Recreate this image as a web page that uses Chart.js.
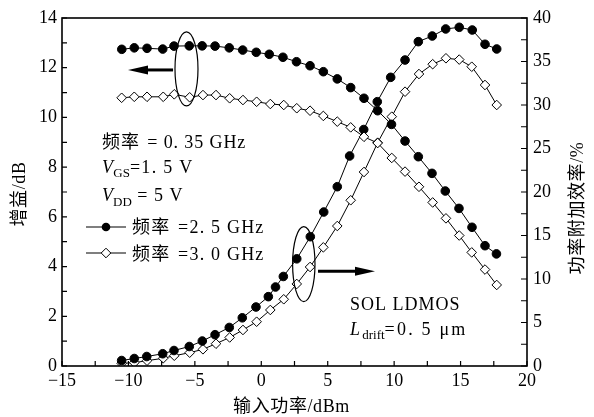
<!DOCTYPE html>
<html>
<head>
<meta charset="utf-8">
<script src="https://cdn.jsdelivr.net/npm/chart.js@4.4.0/dist/chart.umd.min.js"></script>
<style>
  html, body { margin: 0; padding: 0; background: #fff; }
  #wrap { width: 594px; height: 417px; }
</style>
</head>
<body>
<div id="wrap"><canvas id="chart" width="594" height="417"></canvas></div>
<script>
var gainX25 = [-10.5, -9.56, -8.6, -7.42, -6.57, -5.42, -4.45, -3.48, -2.41, -1.4, -0.38, 0.6, 1.63, 2.65, 3.67, 4.67, 5.72, 6.73, 7.73, 8.76, 9.8, 10.82, 11.82, 12.85, 13.85, 14.88, 15.86, 16.84, 17.7];
var gain25 = [12.74, 12.80, 12.78, 12.75, 12.87, 12.88, 12.88, 12.87, 12.80, 12.71, 12.62, 12.54, 12.42, 12.24, 12.08, 11.84, 11.55, 11.20, 10.77, 10.27, 9.72, 9.05, 8.42, 7.75, 7.04, 6.34, 5.58, 4.84, 4.51];
var paeX25 = [-10.51, -9.56, -8.62, -7.42, -6.57, -5.42, -4.44, -3.48, -2.41, -1.43, -0.4, 0.53, 1.07, 1.66, 2.67, 3.69, 4.7, 5.72, 6.65, 7.71, 8.73, 9.74, 10.82, 11.82, 12.87, 13.88, 14.9, 15.88, 16.84, 17.72];
var pae25 = [0.63, 0.86, 1.09, 1.41, 1.78, 2.24, 2.87, 3.6, 4.43, 5.54, 6.78, 7.97, 9.08, 10.29, 12.32, 14.86, 17.7, 20.61, 24.14, 27.18, 30.38, 33.18, 35.17, 37.28, 37.93, 38.74, 38.93, 38.62, 36.98, 36.44];
var x30 = [-10.51, -9.56, -8.6, -7.38, -6.55, -5.39, -4.39, -3.41, -2.38, -1.38, -0.35, 0.68, 1.69, 2.67, 3.67, 4.67, 5.72, 6.73, 7.73, 8.76, 9.82, 10.82, 11.87, 12.9, 13.9, 14.9, 15.84, 16.84, 17.72];
var gain30 = [10.79, 10.83, 10.83, 10.83, 10.93, 10.81, 10.90, 10.90, 10.77, 10.70, 10.63, 10.54, 10.50, 10.37, 10.27, 10.06, 9.83, 9.60, 9.22, 8.97, 8.37, 7.82, 7.21, 6.58, 5.94, 5.25, 4.57, 3.88, 3.26];
var pae30 = [0.31, 0.38, 0.61, 0.89, 1.18, 1.53, 1.92, 2.56, 3.28, 4.14, 5.09, 6.44, 7.67, 9.43, 11.38, 13.64, 16.09, 19.05, 22.3, 25.67, 28.66, 31.53, 33.56, 34.69, 35.37, 35.22, 34.4, 32.3, 30.0];

var xTicks = [-15, -10, -5, 0, 5, 10, 15, 20];
var gainTicks = [0, 2, 4, 6, 8, 10, 12, 14];
var paeTicks = [0, 5, 10, 15, 20, 25, 30, 35, 40];

var SERIF = "'Liberation Serif', 'Noto Sans CJK SC', serif";

function pts(xs, ys) {
  var out = [];
  for (var i = 0; i < xs.length; i++) out.push({ x: xs[i], y: ys[i] });
  return out;
}

function series(data, axis, diamond) {
  return {
    data: data,
    yAxisID: axis,
    borderColor: '#000',
    borderWidth: 1,
    tension: 0,
    fill: false,
    pointStyle: diamond ? 'rectRot' : 'circle',
    pointRadius: diamond ? 4.8 : 4.3,
    pointBorderWidth: 1,
    pointBorderColor: '#000',
    pointBackgroundColor: diamond ? '#fff' : '#000'
  };
}

// draws text made of several pieces (italic / subscript), ls = letter spacing
function richText(ctx, x, y, parts, ls) {
  ctx.textAlign = 'left';
  ctx.textBaseline = 'alphabetic';
  for (var i = 0; i < parts.length; i++) {
    var p = parts[i];
    ctx.letterSpacing = (p.ls !== undefined ? p.ls : (ls || 0)) + 'px';
    ctx.font = (p.italic ? 'italic ' : '') + (p.size || 18) + 'px ' + SERIF;
    ctx.fillText(p.t, x, y + (p.dy || 0));
    x += ctx.measureText(p.t).width + (p.gap || 0);
  }
  ctx.letterSpacing = '0px';
}

function arrow(ctx, x1, y, x2) {
  var dir = x2 > x1 ? 1 : -1;
  ctx.lineWidth = 3;
  ctx.beginPath();
  ctx.moveTo(x1, y);
  ctx.lineTo(x2 - dir * 16, y);
  ctx.stroke();
  ctx.beginPath();
  ctx.moveTo(x2, y);
  ctx.lineTo(x2 - dir * 20, y - 4.5);
  ctx.lineTo(x2 - dir * 20, y + 4.5);
  ctx.closePath();
  ctx.fill();
}

var decorations = {
  id: 'decorations',
  afterDraw: function (chart) {
    var ctx = chart.ctx;
    var a = chart.chartArea;
    var sx = chart.scales.x, sy = chart.scales.y, sy2 = chart.scales.y2;
    var v, px;
    ctx.save();
    ctx.strokeStyle = '#000';
    ctx.fillStyle = '#000';

    // frame
    ctx.lineWidth = 1.6;
    ctx.strokeRect(a.left, a.top, a.right - a.left, a.bottom - a.top);

    // inward ticks
    ctx.lineWidth = 1.2;
    ctx.beginPath();
    for (v = -15; v <= 20; v += 2.5) {
      px = sx.getPixelForValue(v);
      ctx.moveTo(px, a.bottom);
      ctx.lineTo(px, a.bottom - 5);
    }
    for (v = 0; v <= 14; v += 1) {
      px = sy.getPixelForValue(v);
      ctx.moveTo(a.left, px);
      ctx.lineTo(a.left + 5, px);
    }
    for (v = 0; v <= 40; v += 2.5) {
      px = sy2.getPixelForValue(v);
      ctx.moveTo(a.right, px);
      ctx.lineTo(a.right - 6, px);
    }
    ctx.stroke();

    // ellipses and arrows marking which axis each group uses
    ctx.lineWidth = 1.2;
    ctx.beginPath();
    ctx.ellipse(sx.getPixelForValue(-5.63), sy.getPixelForValue(11.95), 11.5, 37, 0, 0, Math.PI * 2);
    ctx.stroke();
    ctx.beginPath();
    ctx.ellipse(sx.getPixelForValue(3.2), sy2.getPixelForValue(11.72), 11.2, 37.5, 0, 0, Math.PI * 2);
    ctx.stroke();
    arrow(ctx, sx.getPixelForValue(-6.64), sy.getPixelForValue(11.91), sx.getPixelForValue(-10.03));
    arrow(ctx, sx.getPixelForValue(4.27), sy2.getPixelForValue(10.88), sx.getPixelForValue(8.56));

    // annotation text
    richText(ctx, 102, 148, [{ t: '频率', gap: 2 }, { t: ' = 0. 35 GHz' }], 0.9);
    richText(ctx, 102, 173, [{ t: 'V', italic: true, gap: -1 }, { t: 'GS', size: 13, dy: 4, ls: 0 }, { t: '=1. 5 V' }], 1.3);
    richText(ctx, 102, 201, [{ t: 'V', italic: true, gap: -1 }, { t: 'DD', size: 13, dy: 5, ls: 0 }, { t: ' = 5 V' }], 1);
    richText(ctx, 350, 310, [{ t: 'SOL LDMOS' }], 1);
    richText(ctx, 350, 335, [{ t: 'L', italic: true }, { t: 'drift', size: 13, dy: 4, ls: 0 }, { t: '=0. 5 μm' }], 2.2);

    // legend
    ctx.lineWidth = 1.2;
    ctx.beginPath();
    ctx.moveTo(86, 227); ctx.lineTo(126, 227);
    ctx.moveTo(86, 253); ctx.lineTo(126, 253);
    ctx.stroke();
    ctx.beginPath();
    ctx.arc(106, 227, 4.3, 0, Math.PI * 2);
    ctx.fill();
    ctx.beginPath();
    ctx.moveTo(106, 253 - 4.8); ctx.lineTo(110.8, 253); ctx.lineTo(106, 253 + 4.8); ctx.lineTo(101.2, 253);
    ctx.closePath();
    ctx.fillStyle = '#fff';
    ctx.fill();
    ctx.lineWidth = 1;
    ctx.stroke();
    ctx.fillStyle = '#000';
    richText(ctx, 132, 233, [{ t: '频率', gap: 2 }, { t: ' =2. 5 GHz' }], 1.2);
    richText(ctx, 132, 260, [{ t: '频率', gap: 2 }, { t: ' =3. 0 GHz' }], 1.2);

    // axis titles
    ctx.font = '18px ' + SERIF;
    ctx.textAlign = 'center';
    ctx.textBaseline = 'middle';
    ctx.letterSpacing = '0.6px';
    ctx.fillText('输入功率/dBm', (a.left + a.right) / 2 - 3, 407);
    ctx.save();
    ctx.translate(20, 194);
    ctx.rotate(-Math.PI / 2);
    ctx.fillText('增益/dB', 0, 0);
    ctx.restore();
    ctx.save();
    ctx.translate(578, 208);
    ctx.rotate(-Math.PI / 2);
    ctx.fillText('功率附加效率/%', 0, 0);
    ctx.restore();

    ctx.restore();
  }
};

var tickFont = { family: SERIF, size: 18 };

new Chart(document.getElementById('chart'), {
  type: 'line',
  data: {
    datasets: [
      series(pts(gainX25, gain25), 'y', false),
      series(pts(x30, gain30), 'y', true),
      series(pts(paeX25, pae25), 'y2', false),
      series(pts(x30, pae30), 'y2', true)
    ]
  },
  options: {
    responsive: false,
    animation: false,
    layout: { padding: { top: 18, left: 0, right: 0, bottom: 0 } },
    plugins: { legend: { display: false }, tooltip: { enabled: false } },
    scales: {
      x: {
        type: 'linear', min: -15, max: 20,
        afterFit: function (s) { s.height = 51; },
        afterBuildTicks: function (s) { s.ticks = xTicks.map(function (v) { return { value: v }; }); },
        grid: { display: false, drawTicks: false },
        border: { display: false },
        ticks: {
          color: '#000', font: tickFont, padding: 4, maxRotation: 0,
          callback: function (v) { return String(v).replace('-', '\u2212'); }
        }
      },
      y: {
        position: 'left', min: 0, max: 14,
        afterFit: function (s) { s.width = 62; },
        afterBuildTicks: function (s) { s.ticks = gainTicks.map(function (v) { return { value: v }; }); },
        grid: { display: false, drawTicks: false },
        border: { display: false },
        ticks: { color: '#000', font: tickFont, padding: 5 }
      },
      y2: {
        position: 'right', min: 0, max: 40,
        afterFit: function (s) { s.width = 67; },
        afterBuildTicks: function (s) { s.ticks = paeTicks.map(function (v) { return { value: v }; }); },
        grid: { display: false, drawTicks: false },
        border: { display: false },
        ticks: { color: '#000', font: tickFont, padding: 6 }
      }
    }
  },
  plugins: [decorations]
});
</script>
</body>
</html>
